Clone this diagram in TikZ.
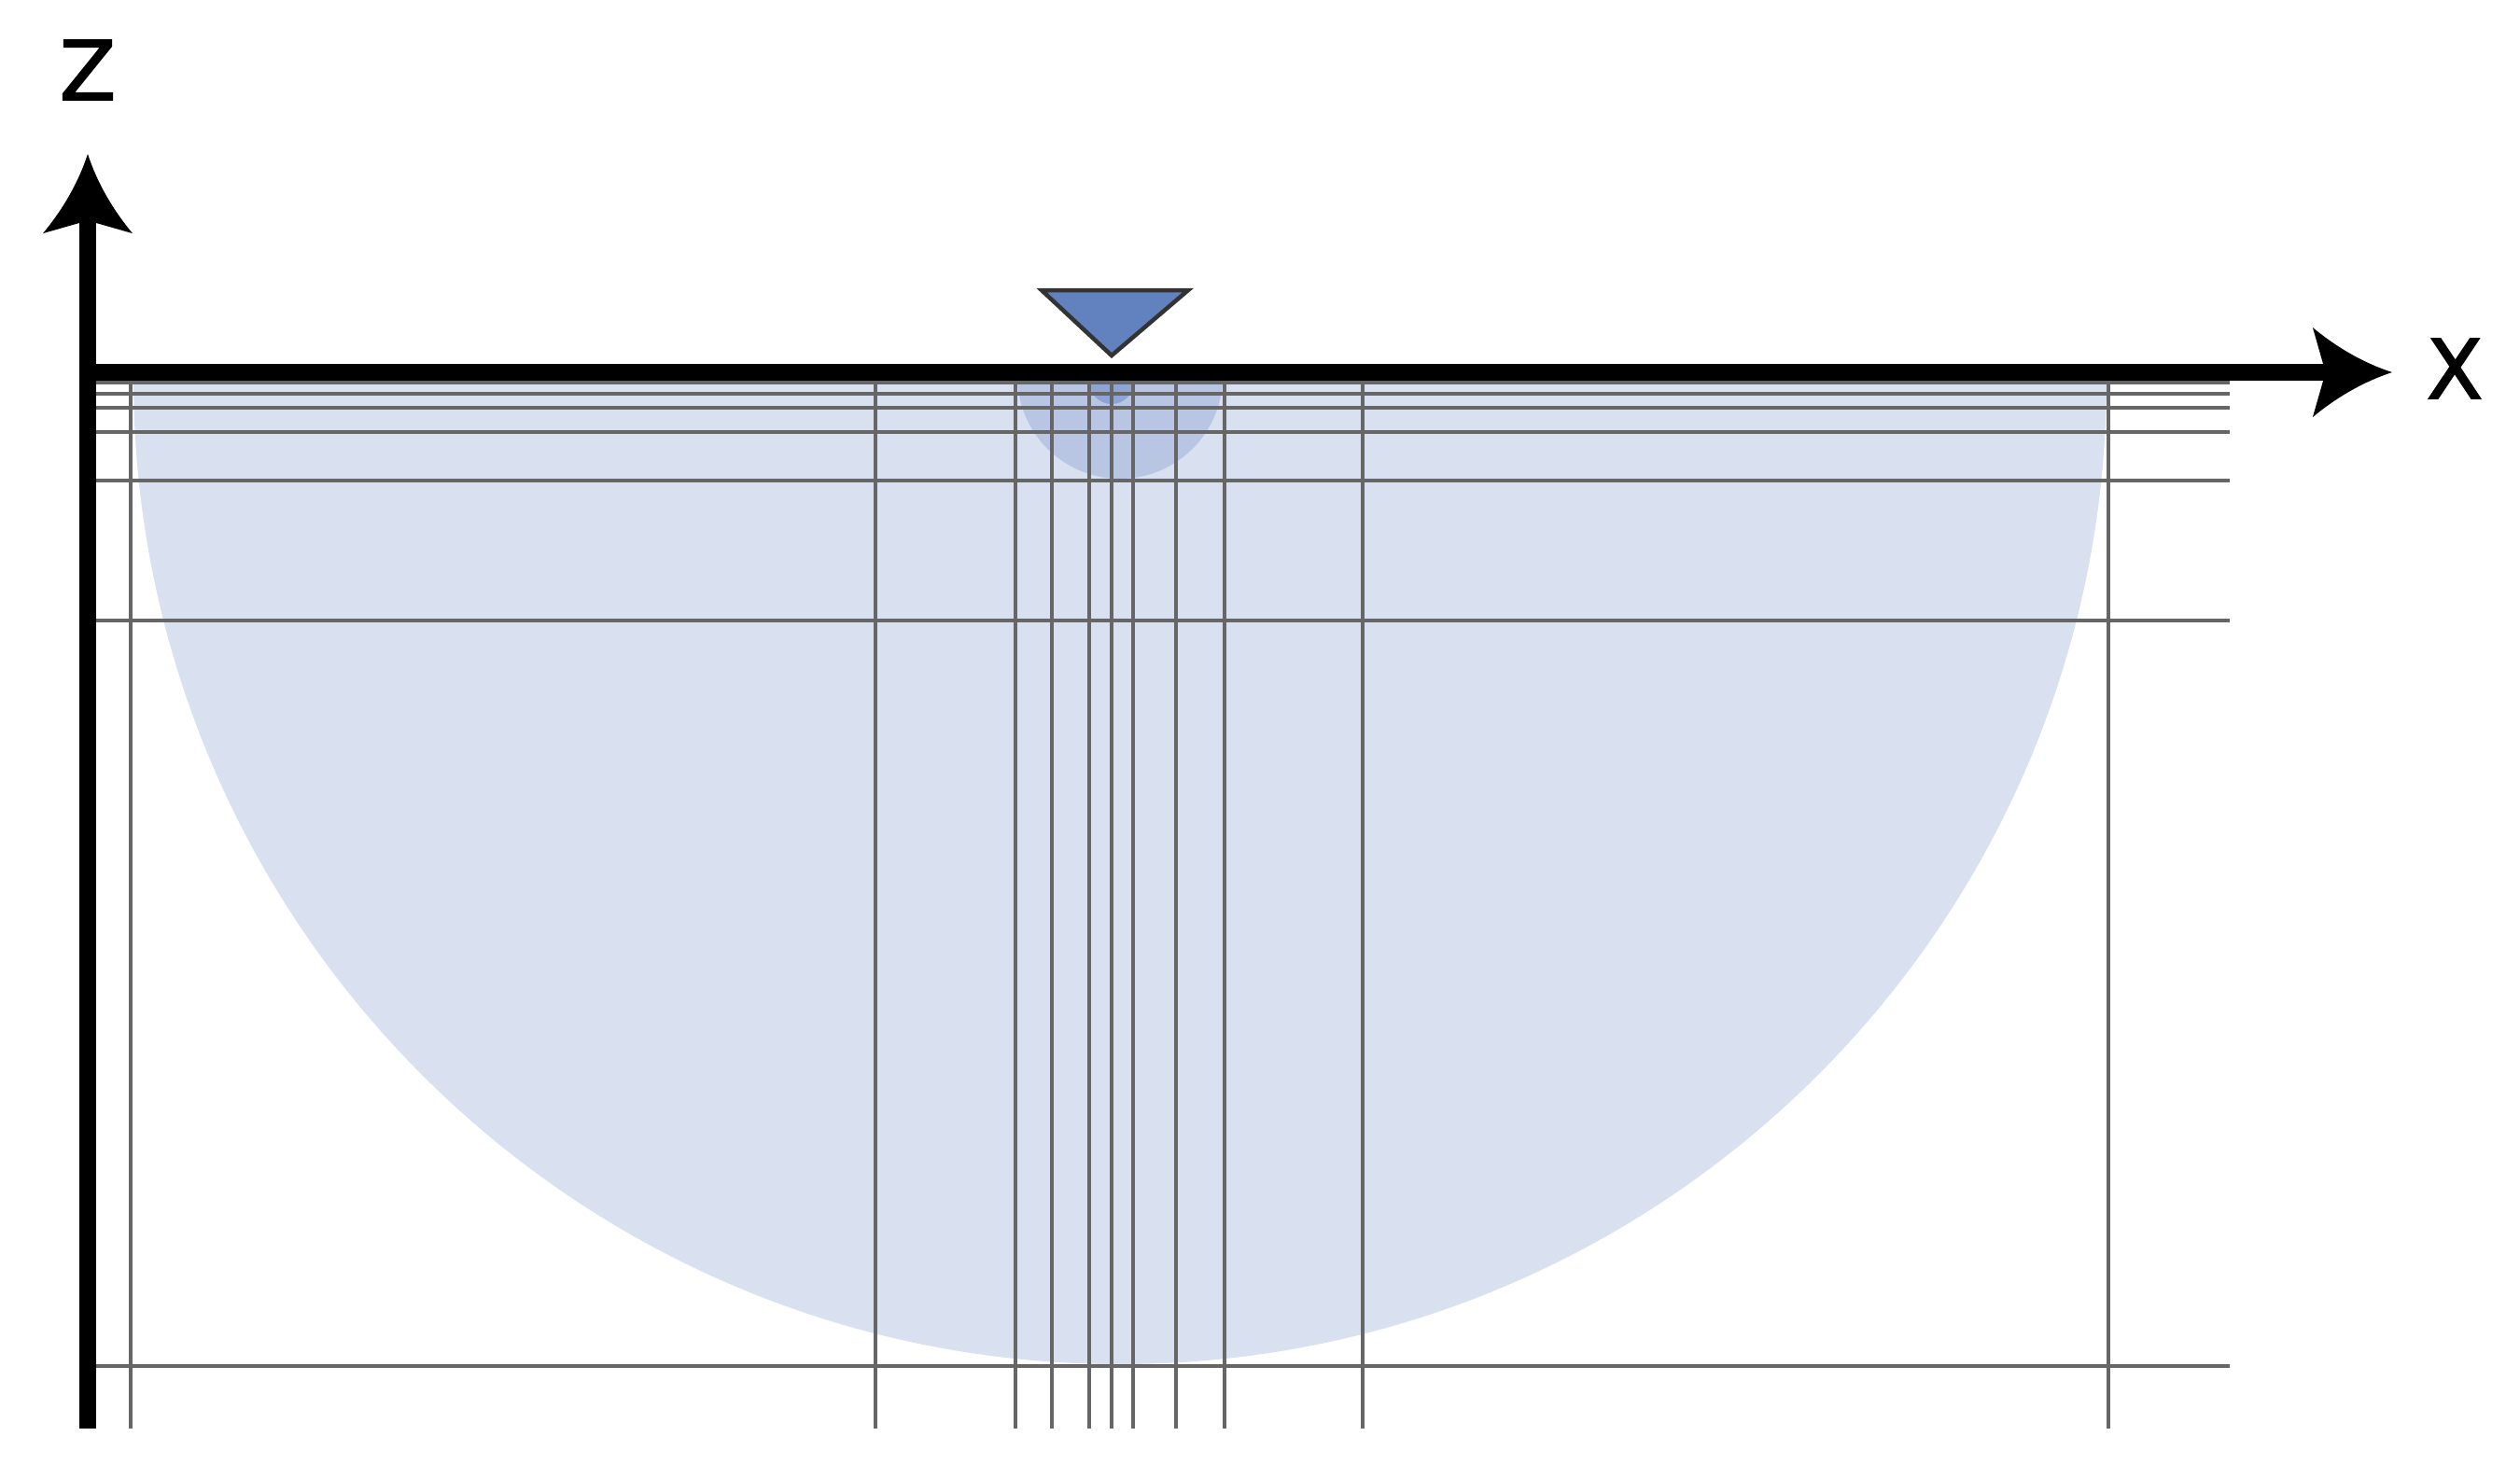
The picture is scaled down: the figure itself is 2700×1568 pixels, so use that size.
\documentclass[tikz,border=0pt]{standalone}
\usepackage{fontspec}
\setmainfont{DejaVu Sans}
\newfontfamily\axisfont[FakeBold=2]{DejaVu Sans}
\definecolor{gridgray}{RGB}{102,102,102}
\definecolor{zonefar}{RGB}{217,224,239}
\definecolor{zonemid}{RGB}{184,198,228}
\definecolor{zonenear}{RGB}{142,164,213}
\definecolor{markerblue}{RGB}{98,129,191}

% arrow head with curved flanks, sized for the axes
\pgfdeclarearrow{
  name = Flared,
  setup code = {
    \pgfarrowssettipend{0pt}
    \pgfarrowssetbackend{-24.2pt}
    \pgfarrowssetlineend{-19pt}
    \pgfarrowsupperhullpoint{0pt}{0pt}
    \pgfarrowsupperhullpoint{-24.2pt}{13.65pt}
  },
  drawing code = {
    \pgfpathmoveto{\pgfqpoint{0pt}{0pt}}
    \pgfpathquadraticcurveto{\pgfqpoint{-12.8pt}{4.2pt}}{\pgfqpoint{-24.2pt}{13.65pt}}
    \pgfpathlineto{\pgfqpoint{-20.3pt}{0pt}}
    \pgfpathlineto{\pgfqpoint{-24.2pt}{-13.65pt}}
    \pgfpathquadraticcurveto{\pgfqpoint{-12.8pt}{-4.2pt}}{\pgfqpoint{0pt}{0pt}}
    \pgfpathclose
    \pgfusepathqfill
  }
}

\tikzstyle{axis} = [line width=0.18cm, -Flared]
\tikzstyle{gridline} = [line width=0.048cm, draw=gridgray]
\tikzstyle{axislabel} = [font=\axisfont\fontsize{25}{30}\selectfont, inner sep=0pt]
\tikzstyle{marker} = [line width=0.045cm, draw={rgb,255:red,51;green,51;blue,51}, fill=markerblue, line join=miter]

\begin{document}
\begin{tikzpicture}[x=0.01cm, y=-0.01cm]
\useasboundingbox (0,0) rectangle (2700,1568);

% Influence zones below the surface
\begin{scope}
\clip (0,408) rectangle (2700,1568);
\fill[zonefar] (1200,405) circle (1057);
\fill[zonemid] (1200,403) circle (110);
\fill[zonenear] (1191,409) circle (24);
\end{scope}

% Mesh lines
\foreach \gx in {140,938,1088,1127,1167,1191,1214,1260,1312,1460,2259}
  \draw[gridline] (\gx,410) -- (\gx,1531);
\foreach \gz in {410,422,437,463,515,665,1464}
  \draw[gridline] (103,\gz) -- (2389,\gz);

% Axes
\coordinate (O) at (94,399);
\coordinate (Zend) at (94,1531);
\coordinate (Ztip) at (94,165);
\coordinate (Xtip) at (2563,399);
\draw[axis] (Zend) -- (Ztip);
\draw[axis] (O) -- (Xtip);
\node (zlab) [axislabel] at (94,75) {Z};
\node (xlab) [axislabel] at (2630,395) {X};

% Load marker
\draw[marker] (1116,311) -- (1273,311) -- (1191,381) -- cycle;

\end{tikzpicture}
\end{document}
